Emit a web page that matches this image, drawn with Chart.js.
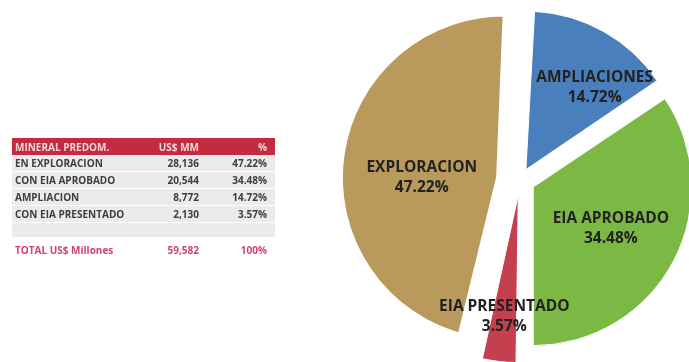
<!DOCTYPE html>
<html>
<head>
<meta charset="utf-8">
<script src="https://cdn.jsdelivr.net/npm/chart.js@4/dist/chart.umd.min.js"></script>
<style>
  html, body { margin: 0; padding: 0; background: #fff; }
  #wrap { position: relative; width: 689px; height: 362px; overflow: hidden; }
  #torta { position: absolute; left: 0; top: 0; }
  #tabla {
    position: absolute; left: 12px; top: 138px; width: 263px;
    border-collapse: collapse; font-family: "Open Sans", sans-serif;
    font-weight: bold; font-size: 10px; color: #3d3d3d;
  }
  #tabla td, #tabla th { padding: 0 3px; white-space: nowrap; }
  #tabla th { background: #c42b3f; color: #f4d3d8; height: 17px; text-align: left; font-weight: bold; }
  #tabla td { background: #ebebee; height: 16px; border-bottom: 1px solid #fff; }
  #tabla .col1 { width: 132px; }
  #tabla .num { text-align: right; width: 46px; padding-right: 6px; }
  #tabla .pct { text-align: right; padding-right: 8px; }
  #tabla tr.vacia td { height: 14px; }
  #tabla tr.total td { background: #fff; color: #d2416a; height: 24px; }
</style>
</head>
<body>
<div id="wrap">
  <canvas id="torta" width="689" height="362"></canvas>
  <table id="tabla"></table>
</div>
<script>
// tabla: inversion por estado del proyecto
var filas = ['EN EXPLORACION', 'CON EIA APROBADO', 'AMPLIACION', 'CON EIA PRESENTADO'];
var montos = [28136, 20544, 8772, 2130];
var porcentajes = [47.22, 34.48, 14.72, 3.57];
var totalMonto = 59582;

// torta (en sentido horario desde arriba)
var etiquetas = ['AMPLIACIONES', 'EIA APROBADO', 'EIA PRESENTADO', 'EXPLORACION'];
var valores = [14.72, 34.48, 3.57, 47.22];
var colores = ['#4a7fbe', '#7bb944', '#c4404e', '#b99a5c'];

// armar la tabla
var tabla = document.getElementById('tabla');
var html = '<tr><th class="col1">MINERAL PREDOM.</th><th class="num">US$ MM</th><th class="pct">%</th></tr>';
for (var i = 0; i < filas.length; i++) {
    html += '<tr><td>' + filas[i] + '</td><td class="num">' + montos[i].toLocaleString('en-US') +
        '</td><td class="pct">' + porcentajes[i].toFixed(2) + '%</td></tr>';
}
html += '<tr class="vacia"><td></td><td></td><td></td></tr>';
html += '<tr class="total"><td>TOTAL US$ Millones</td><td class="num">' + totalMonto.toLocaleString('en-US') +
    '</td><td class="pct">100%</td></tr>';
tabla.innerHTML = html;

// donde va cada rotulo: fraccion del radio y posicion dentro del angulo
var distRotulo = [0.76, 0.66, 0.88, 0.63];
var angRotulo = [0.68, 0.5, 0.5, 0.46];

var rotulos = {
    id: 'rotulos',
    afterDatasetsDraw: function(chart) {
        var ctx = chart.ctx;
        var arcos = chart.getDatasetMeta(0).data;
        ctx.save();
        ctx.font = 'bold 15.5px "Open Sans"';
        ctx.fillStyle = '#222';
        ctx.textAlign = 'center';
        ctx.textBaseline = 'middle';
        arcos.forEach(function(arco, i) {
            var a = arco.startAngle + (arco.endAngle - arco.startAngle) * angRotulo[i];
            var r = chart.options.radius * distRotulo[i];
            var x = arco.x + Math.cos(a) * r;
            var y = arco.y + Math.sin(a) * r;
            ctx.fillText(etiquetas[i], x, y - 10);
            ctx.fillText(valores[i].toFixed(2) + '%', x, y + 10);
        });
        ctx.restore();
    }
};

var ctx = document.getElementById('torta').getContext('2d');
var torta = new Chart(ctx, {
    type: 'pie',
    data: {
        labels: etiquetas,
        datasets: [{
            data: valores,
            backgroundColor: colores,
            borderColor: '#fff',
            // el borde blanco ancho achica la porcion de exploracion
            borderWidth: [1, 1, 1, 16],
            offset: [48, 60, 60, 64]
        }]
    },
    options: {
        responsive: false,
        animation: false,
        radius: 156,
        rotation: 3,
        layout: { padding: { left: 351, top: 0, bottom: 2, right: 0 } },
        plugins: { legend: { display: false }, tooltip: { enabled: false } }
    },
    plugins: [rotulos]
});
</script>
</body>
</html>
